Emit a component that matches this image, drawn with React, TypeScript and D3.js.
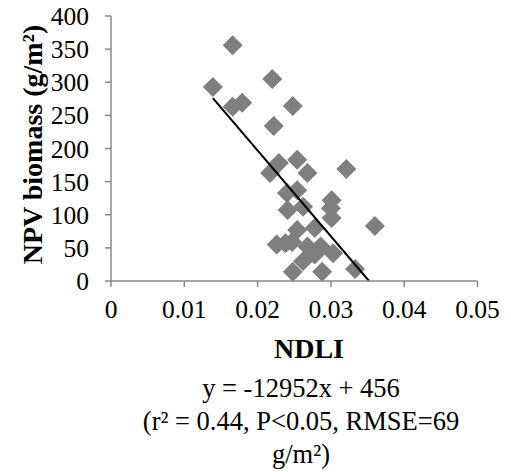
import React from "react";
import * as d3 from "d3";

const ndli = [
  0.0139, 0.0166, 0.0166, 0.0179, 0.022, 0.0222, 0.0248, 0.0217, 0.0229, 0.0254,
  0.0268, 0.0321, 0.024, 0.0254, 0.0241, 0.0262, 0.0301, 0.03, 0.0301, 0.036,
  0.0254, 0.0278, 0.0226, 0.0238, 0.0247, 0.0268, 0.0286, 0.0303, 0.0278, 0.0262,
  0.0248, 0.0288, 0.0333,
];
const npv = [
  293, 356, 263, 269, 305, 234, 264, 163, 178, 183,
  163, 169, 133, 137, 107, 112, 122, 110, 95, 83,
  77, 80, 55, 57, 59, 52, 52, 42, 40, 30,
  14, 14, 18,
];
const xTicks = [0, 0.01, 0.02, 0.03, 0.04, 0.05];
const yTicks = [0, 50, 100, 150, 200, 250, 300, 350, 400];
const slope = -12952;
const intercept = 456;
const eqLines = ["y = -12952x + 456", "(r² = 0.44, P<0.05, RMSE=69", "g/m²)"];

const FONT = '"Times New Roman", "Liberation Serif", Tinos, "DejaVu Serif", serif';

export default function App() {
  const x = d3.scaleLinear().domain([0, 0.05]).range([111, 477.5]);
  const y = d3.scaleLinear().domain([0, 400]).range([281, 16]);
  const axisColor = "#888888";
  const diamond = d3.symbol().type(d3.symbolSquare).size(200)() as string;
  const xStart = d3.min(ndli) as number;
  const xEnd = -intercept / slope;
  const line = d3
    .line<number>()
    .x((d) => x(d))
    .y((d) => y(slope * d + intercept));
  const ts = { fontFamily: FONT };

  return (
    <svg
      width={511}
      height={472}
      style={{ position: "absolute", left: 0, top: 0, background: "#fff", fontFamily: FONT }}
    >
      {ndli.map((v, i) => (
        <path
          key={i}
          d={diamond}
          transform={`translate(${x(v)},${y(npv[i])}) rotate(45)`}
          fill="#7f7f7f"
        />
      ))}
      <path d={line([xStart, xEnd]) as string} stroke="#000" strokeWidth={2} fill="none" />
      <line x1={x(0)} x2={x(0)} y1={y(400)} y2={y(0)} stroke={axisColor} strokeWidth={1.5} />
      <line x1={x(0)} x2={x(0.05)} y1={y(0)} y2={y(0)} stroke={axisColor} strokeWidth={1.5} />
      {yTicks.map((t) => (
        <g key={"y" + t}>
          <line x1={x(0) - 6} x2={x(0)} y1={y(t)} y2={y(t)} stroke={axisColor} strokeWidth={1.5} />
          <text x={89} y={y(t) + 9} textAnchor="end" fontSize={25.5} fill="#000" style={ts}>
            {t}
          </text>
        </g>
      ))}
      {xTicks.map((t) => (
        <g key={"x" + t}>
          <line x1={x(t)} x2={x(t)} y1={y(0)} y2={y(0) + 6} stroke={axisColor} strokeWidth={1.5} />
          <text x={x(t)} y={318} textAnchor="middle" fontSize={25.5} fill="#000" style={ts}>
            {t}
          </text>
        </g>
      ))}
      <text x={309} y={358} textAnchor="middle" fontSize={28} fontWeight="bold" fill="#000" style={ts}>
        NDLI
      </text>
      <text
        transform={`translate(42,${(y(0) + y(400)) / 2 - 4}) rotate(-90)`}
        textAnchor="middle"
        fontSize={28}
        fontWeight="bold"
        fill="#000"
        style={ts}
      >
        NPV biomass (g/m²)
      </text>
      {eqLines.map((s, i) => (
        <text key={i} x={301} y={397 + i * 33} textAnchor="middle" fontSize={26.5} fill="#000" style={ts}>
          {s}
        </text>
      ))}
    </svg>
  );
}
